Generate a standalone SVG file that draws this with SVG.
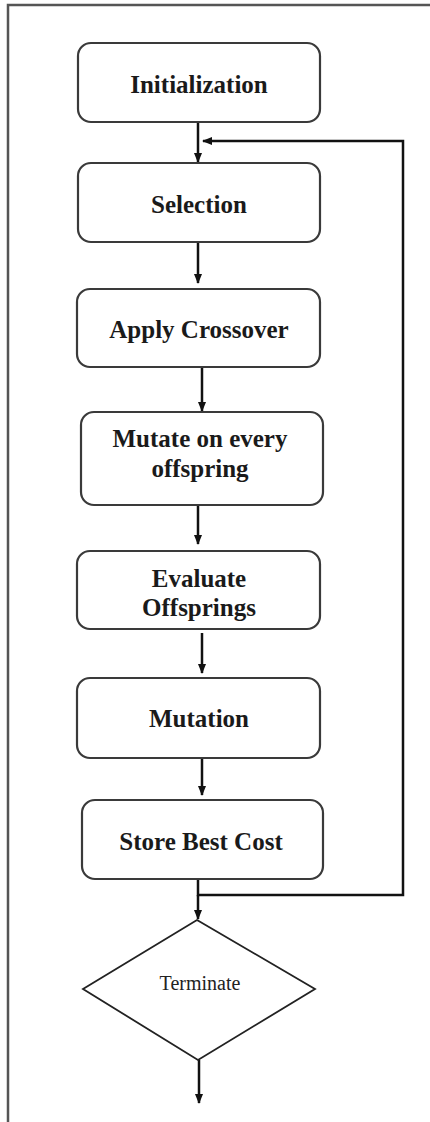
<svg xmlns="http://www.w3.org/2000/svg" width="430" height="1122" viewBox="0 0 430 1122">
<style>
.box{fill:#fff;stroke:#3a3a3a;stroke-width:2.2}
.lbl{font-family:"Liberation Serif","Times New Roman",serif;font-weight:bold;font-size:25px;fill:#1a1a1a;text-anchor:middle}
.reg{font-family:"Liberation Serif","Times New Roman",serif;font-size:20px;fill:#222;text-anchor:middle}
.con{fill:none;stroke:#111;stroke-width:2.5}
</style>
<defs>
<marker id="ah" markerWidth="10" markerHeight="10" refX="9" refY="5" orient="auto" markerUnits="userSpaceOnUse">
<path d="M0,1 L10,5 L0,9 Z" fill="#111"/>
</marker>
</defs>
<rect x="8" y="5" width="440" height="1130" fill="none" stroke="#555" stroke-width="2.5"/>
<g id="connectors">
<line class="con" x1="198" y1="122" x2="198" y2="162" marker-end="url(#ah)"/>
<polyline class="con" points="198,879 198,895 403,895 403,141 203,141" marker-end="url(#ah)"/>
<line class="con" x1="198" y1="895" x2="198" y2="919" marker-end="url(#ah)"/>
<line class="con" x1="198" y1="242" x2="198" y2="283" marker-end="url(#ah)"/>
<line class="con" x1="202" y1="367" x2="202" y2="411" marker-end="url(#ah)"/>
<line class="con" x1="198" y1="505" x2="198" y2="544" marker-end="url(#ah)"/>
<line class="con" x1="202" y1="633" x2="202" y2="673" marker-end="url(#ah)"/>
<line class="con" x1="202" y1="758" x2="202" y2="795" marker-end="url(#ah)"/>
<line class="con" x1="199" y1="1060" x2="199" y2="1103" marker-end="url(#ah)"/>
</g>
<g id="n-init"><rect class="box" x="78" y="43" width="242" height="79" rx="13"/><text class="lbl" x="199" y="93">Initialization</text></g>
<g id="n-sel"><rect class="box" x="78" y="163" width="242" height="79" rx="13"/><text class="lbl" x="199" y="213">Selection</text></g>
<g id="n-cross"><rect class="box" x="77" y="289" width="243" height="78" rx="13"/><text class="lbl" x="199" y="338">Apply Crossover</text></g>
<g id="n-mut1"><rect class="box" x="81" y="412" width="242" height="93" rx="13"/><text class="lbl" x="200" y="447">Mutate on every</text><text class="lbl" x="200" y="477">offspring</text></g>
<g id="n-eval"><rect class="box" x="77" y="551" width="243" height="78" rx="13"/><text class="lbl" x="199" y="587">Evaluate</text><text class="lbl" x="199" y="616">Offsprings</text></g>
<g id="n-mut2"><rect class="box" x="77" y="678" width="243" height="80" rx="13"/><text class="lbl" x="199" y="727">Mutation</text></g>
<g id="n-store"><rect class="box" x="82" y="800" width="241" height="79" rx="13"/><text class="lbl" x="201" y="850">Store Best Cost</text></g>
<g id="n-term"><polygon points="197,920 315,989 198,1060 83,989" fill="#fff" stroke="#222" stroke-width="1.8"/><text class="reg" x="200" y="990">Terminate</text></g>
</svg>
